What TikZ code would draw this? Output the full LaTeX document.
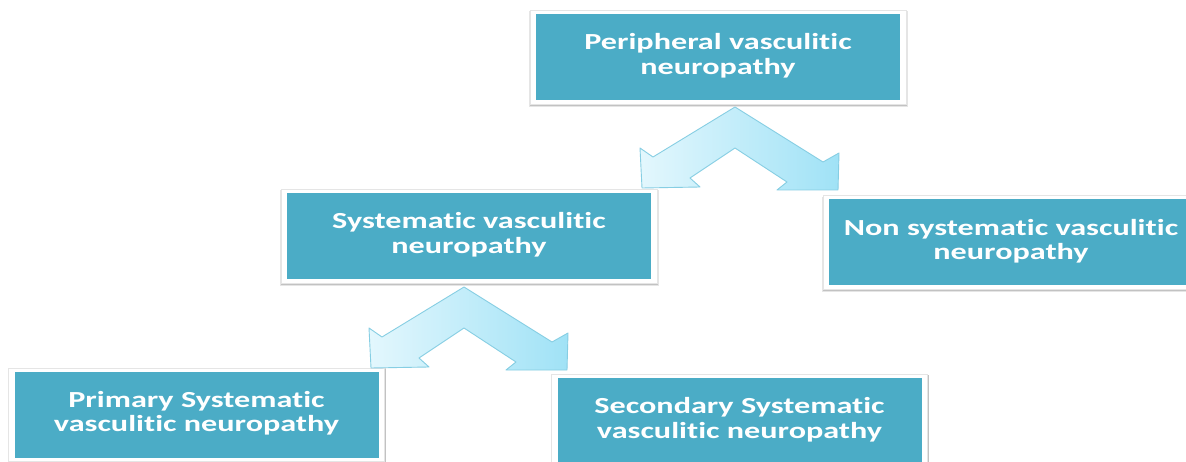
\documentclass[tikz,border=0pt]{standalone}
\usepackage{fontspec}
\usepackage{graphicx}
\setmainfont{Carlito}[Ligatures={NoCommon}]
\usetikzlibrary{backgrounds}
\definecolor{teal1}{HTML}{4BACC6}
\definecolor{arrL}{HTML}{E3F7FD}
\definecolor{arrR}{HTML}{A0E2F6}
\definecolor{arrD}{HTML}{86CEE3}
\tikzset{
  box/.style={rectangle, fill=teal1, draw=none,
    minimum width=364pt, minimum height=86pt, inner sep=0pt,
    text=white, align=center, font=\fontsize{23}{24}\selectfont\bfseries},
  chev/.style={draw=arrD, line width=0.9pt, line join=round,
    left color=arrL, right color=arrR},
}
\newcommand{\btxt}[2]{\raisebox{-2pt}{\scalebox{1.4}[1]{\begin{tabular}{@{}c@{}}#1\\[0.5pt]#2\end{tabular}}}}
\newcommand{\chevron}[2]{%
  \draw[chev, shift={(#1,#2)}]
    (0,0) -- (88,55) -- (104,46) -- (103,83) -- (42,83) -- (52,75)
    -- (0,41) -- (-45,71) -- (-35,80) -- (-93,81) -- (-95,41) -- (-82,50) -- cycle;}
\newcommand{\myframe}[1]{%
  \fill[black, opacity=0.10] ([xshift=-6.5pt,yshift=-6.5pt]#1.south west) rectangle ([xshift=7.5pt,yshift=2.5pt]#1.north east);
  \fill[black, opacity=0.15] ([xshift=-6pt,yshift=-5.5pt]#1.south west) rectangle ([xshift=6.8pt,yshift=3pt]#1.north east);
  \filldraw[fill=white, draw=black!10, line width=0.6pt] ([xshift=-6pt,yshift=-4pt]#1.south west) rectangle ([xshift=6pt,yshift=3.5pt]#1.north east);}
\begin{document}
\begin{tikzpicture}[x=1pt,y=-1pt]
\useasboundingbox (0,0) rectangle (1186,462);
\node[box] (per) at (718,57) {\btxt{Peripheral vasculitic}{neuropathy}};
\node[box] (sys) at (469,236) {\btxt{Systematic vasculitic}{neuropathy}};
\node[box] (non) at (1011,242.5) {\btxt{Non systematic vasculitic}{neuropathy}};
\node[box] (pri) at (196.5,414.5) {\btxt{Primary Systematic}{vasculitic neuropathy}};
\node[box] (sec) at (739.5,421) {\btxt{Secondary Systematic}{vasculitic neuropathy}};
\begin{scope}[on background layer]
\fill[white] (0,0) rectangle (1186,462);
\myframe{per}
\myframe{sys}
\myframe{non}
\myframe{pri}
\myframe{sec}
\end{scope}
\chevron{735}{107}
\chevron{464}{287}
\end{tikzpicture}
\end{document}
